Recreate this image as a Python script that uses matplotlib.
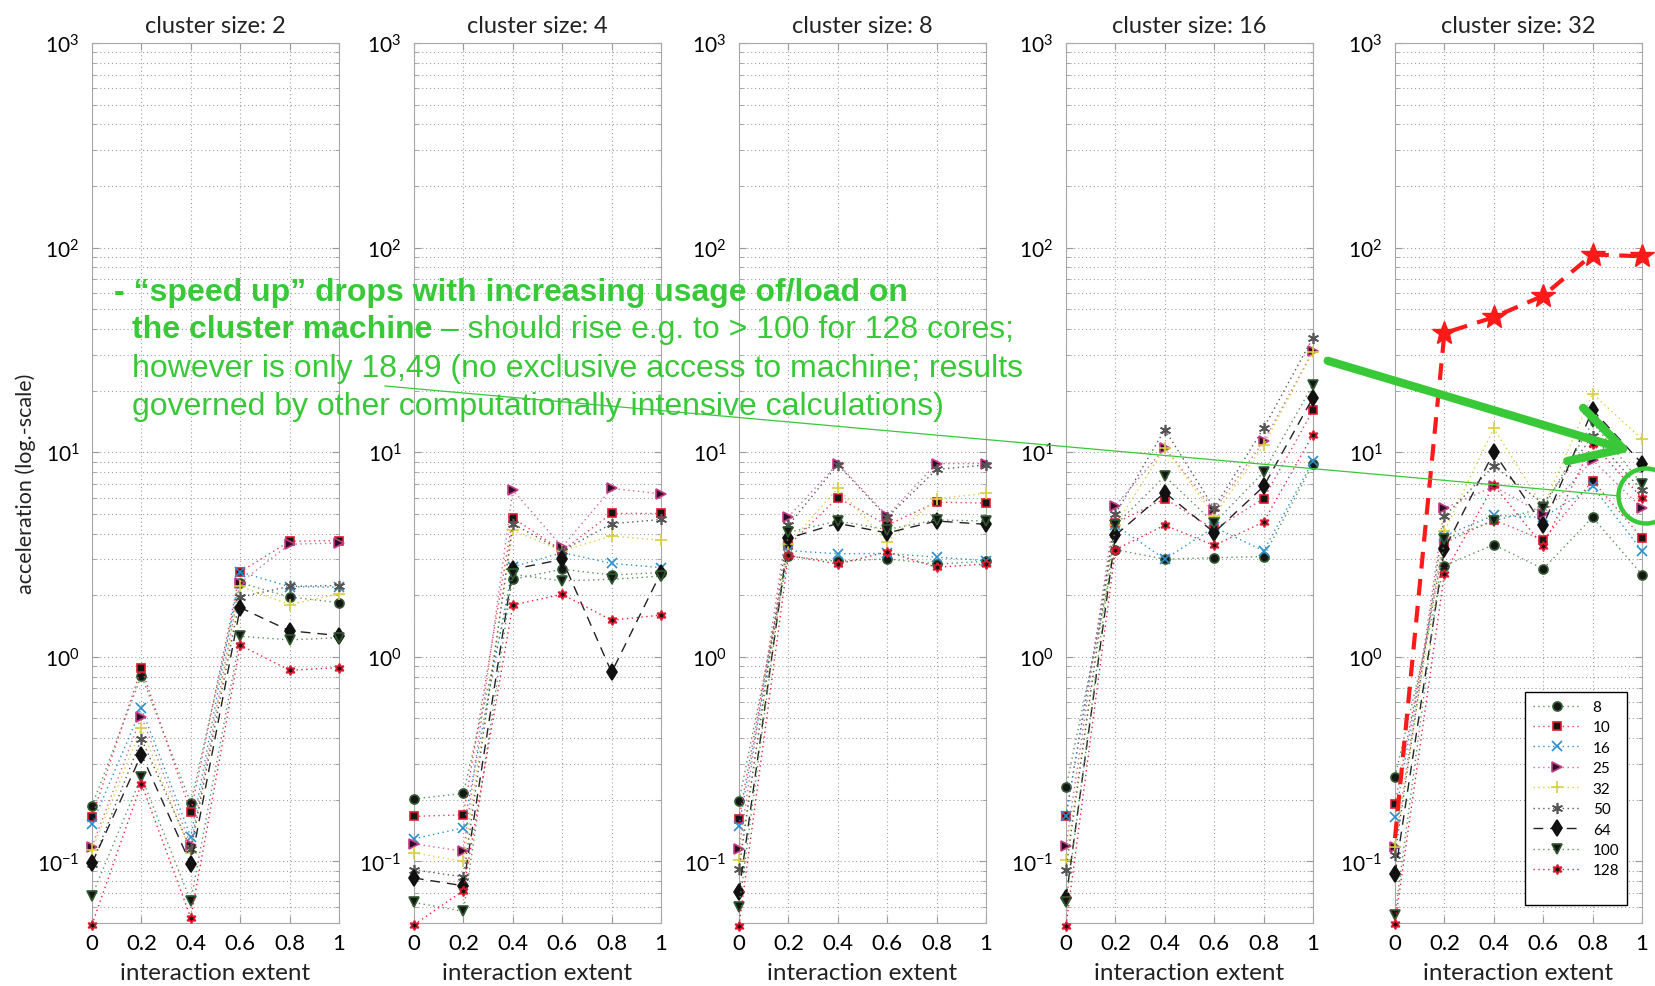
import matplotlib
matplotlib.use("Agg")
import matplotlib.pyplot as plt
from matplotlib.ticker import LogLocator, NullFormatter, FixedLocator, FixedFormatter
from matplotlib.patches import FancyArrowPatch, Ellipse
from matplotlib.lines import Line2D

plt.rcParams['font.family'] = ['Lato', 'DejaVu Sans']
plt.rcParams['mathtext.fontset'] = 'custom'
plt.rcParams['mathtext.rm'] = 'Lato'
plt.rcParams['mathtext.default'] = 'regular'

# data
x_extent = [0, 0.2, 0.4, 0.6, 0.8, 1.0]
x_tick_labels = ['0', '0.2', '0.4', '0.6', '0.8', '1']
cluster_sizes = [2, 4, 8, 16, 32]
core_counts = ['8', '10', '16', '25', '32', '50', '64', '100', '128']

# one row per core count (8, 10, 16, 25, 32, 50, 64, 100, 128)
acc_cluster2 = [
    [0.187, 0.81, 0.193, 2.3, 1.96, 1.84],
    [0.165, 0.88, 0.174, 2.6, 3.67, 3.7],
    [0.152, 0.56, 0.132, 2.6, 2.2, 2.19],
    [0.118, 0.51, 0.12, 2.3, 3.55, 3.6],
    [0.114, 0.449, 0.11, 2.21, 1.8, 2.03],
    [0.097, 0.397, 0.115, 1.96, 2.21, 2.23],
    [0.098, 0.333, 0.097, 1.74, 1.34, 1.27],
    [0.068, 0.259, 0.064, 1.26, 1.21, 1.24],
    [0.049, 0.24, 0.053, 1.14, 0.86, 0.885],
]
acc_cluster4 = [
    [0.202, 0.215, 2.39, 2.68, 2.51, 2.58],
    [0.166, 0.169, 4.78, 3.3, 5.02, 5.02],
    [0.129, 0.146, 2.75, 3.23, 2.86, 2.73],
    [0.122, 0.112, 6.53, 3.44, 6.65, 6.26],
    [0.11, 0.1, 4.15, 3.3, 3.89, 3.72],
    [0.091, 0.084, 4.47, 3.3, 4.47, 4.69],
    [0.083, 0.076, 2.68, 2.99, 0.84, 2.58],
    [0.063, 0.057, 2.53, 2.35, 2.39, 2.48],
    [0.049, 0.072, 1.79, 2.02, 1.51, 1.6],
]
acc_cluster8 = [
    [0.198, 3.1, 2.93, 3.01, 2.84, 2.93],
    [0.162, 3.5, 6.0, 4.4, 5.7, 5.64],
    [0.149, 3.3, 3.19, 3.2, 3.07, 2.95],
    [0.115, 4.83, 8.8, 4.89, 8.8, 8.8],
    [0.102, 3.56, 6.66, 3.66, 5.93, 6.29],
    [0.0915, 4.39, 8.7, 4.8, 8.24, 8.66],
    [0.0706, 3.8, 4.49, 4.03, 4.61, 4.44],
    [0.0598, 4.06, 4.61, 4.19, 4.67, 4.61],
    [0.0485, 3.13, 2.84, 3.26, 2.74, 2.84],
]
acc_cluster16 = [
    [0.23, 3.34, 3.0, 3.05, 3.09, 8.75],
    [0.167, 4.5, 5.93, 4.2, 5.93, 16.0],
    [0.167, 4.4, 3.0, 4.3, 3.3, 9.03],
    [0.119, 5.48, 10.5, 5.21, 11.3, 31.2],
    [0.102, 4.4, 10.5, 4.9, 10.8, 31.0],
    [0.091, 5.0, 12.9, 5.33, 13.1, 36.3],
    [0.066, 3.92, 6.35, 4.05, 6.8, 18.5],
    [0.063, 4.4, 7.63, 4.5, 7.99, 21.4],
    [0.0485, 3.34, 4.4, 3.5, 4.56, 12.2],
]
acc_cluster32 = [
    [0.26, 2.79, 3.53, 2.69, 4.81, 2.52],
    [0.191, 3.6, 4.67, 3.72, 7.26, 3.81],
    [0.165, 3.9, 4.91, 4.8, 6.8, 3.3],
    [0.118, 5.33, 6.8, 4.99, 9.16, 5.33],
    [0.118, 4.12, 13.1, 5.4, 19.3, 11.6],
    [0.108, 4.86, 8.57, 5.61, 12.0, 6.5],
    [0.0866, 3.35, 10.0, 4.39, 16.1, 8.8],
    [0.0545, 3.76, 4.62, 5.33, 14.0, 6.97],
    [0.0497, 2.55, 6.9, 3.48, 11.0, 5.97],
]
# hand-drawn "expected" curve for 128 cores in the last panel
expected_128 = [0.13, 38.2, 45.7, 58.2, 92.5, 90.7]

all_clusters = [acc_cluster2, acc_cluster4, acc_cluster8, acc_cluster16, acc_cluster32]

# line styles per core count: (line colour, linestyle, marker, face, edge, size)
hexagram = (6, 1, 0)
asterisk = (6, 2, 0)
styles = [
    ('#5e8f5e', ':', 'o', '#151515', '#2f5a2f', 6.5),
    ('#e8405a', ':', 's', '#151515', '#e0182d', 6.0),
    ('#2a8fd0', ':', 'x', '#2a8fd0', '#2a8fd0', 6.5),
    ('#d06a9a', ':', '>', '#2a1020', '#c83a8a', 7.0),
    ('#d8d040', ':', '+', '#d8d040', '#d8d040', 9.0),
    ('#555555', ':', asterisk, '#555555', '#555555', 8.0),
    ('#222222', '--', 'd', '#111111', '#111111', 8.5),
    ('#5e8f5e', ':', 'v', '#151515', '#2f5a2f', 7.0),
    ('#e8203a', ':', hexagram, '#151515', '#e0182d', 7.0),
]

W, H = 1655, 987
green = '#38c838'

fig = plt.figure(figsize=(W / 100, H / 100), dpi=100)

panel_lefts = [92, 414, 739, 1066, 1395]
ax_top, ax_bot, ax_w = 44, 924, 247

axes = []
for i, size in enumerate(cluster_sizes):
    ax = fig.add_axes([panel_lefts[i] / W, 1 - ax_bot / H, ax_w / W, (ax_bot - ax_top) / H])
    axes.append(ax)
    for j, vals in enumerate(all_clusters[i]):
        col, ls, mk, mfc, mec, ms = styles[j]
        ax.plot(x_extent, vals, linestyle=ls, color=col, lw=1.0,
                marker=mk, mfc=mfc, mec=mec, ms=ms, mew=1.2,
                label=core_counts[j], clip_on=False, zorder=3 + j * 0.1,
                dashes=(7, 5) if ls == '--' else (1, 2.5))
    ax.set_yscale('log')
    ax.set_ylim(0.05, 1000)
    ax.set_xlim(0, 1)
    ax.xaxis.set_major_locator(FixedLocator(x_extent))
    ax.xaxis.set_major_formatter(FixedFormatter(x_tick_labels))
    ax.yaxis.set_major_locator(FixedLocator([0.1, 1, 10, 100, 1000]))
    ax.yaxis.set_minor_locator(LogLocator(base=10, subs=range(2, 10), numticks=20))
    ax.yaxis.set_minor_formatter(NullFormatter())
    ax.grid(True, which='major', axis='both', color='#a0a0a0', lw=0.8, ls=(0, (1, 2.5)))
    ax.grid(True, which='minor', axis='y', color='#a0a0a0', lw=0.8, ls=(0, (1, 2.5)))
    ax.set_axisbelow(True)
    ax.tick_params(which='both', direction='in', top=True, right=True, color='#999999')
    ax.tick_params(which='major', length=5, pad=7)
    ax.tick_params(axis='x', labelsize=16, pad=7)
    ax.tick_params(axis='y', labelsize=15, pad=9)
    ax.tick_params(which='minor', length=3)
    for s in ax.spines.values():
        s.set_color('#a8a8a8')
    ax.set_title(f'cluster size: {size}', fontsize=17, pad=8, color='#222222')
    ax.set_xlabel('interaction extent', fontsize=17.5, labelpad=7, color='#222222')

axes[0].set_ylabel('acceleration (log.-scale)', fontsize=15.5, labelpad=1, color='#222222')

axes[4].plot(x_extent, expected_128, color='#ff1a1a', lw=3, ls='--', dashes=(4, 2.5),
             marker='*', ms=18, markevery=[1, 2, 3, 4, 5], mec='#ff1a1a', mfc='#ff1a1a',
             clip_on=False, zorder=10)

handles, labels = axes[4].get_legend_handles_labels()
handles = handles[:9] + [Line2D([], [], color='none')]
labels = labels[:9] + [' ']
leg = axes[4].legend(handles, labels, loc='lower right', bbox_to_anchor=(0.939, 0.02),
                     borderaxespad=0, fontsize=11, handlelength=3.1, labelspacing=0.42,
                     borderpad=0.5, fancybox=False, framealpha=1)
leg.get_frame().set_edgecolor('black')
leg.get_frame().set_linewidth(1.0)


def fxy(px, py):
    return px / W, 1 - py / H


# annotation text
fs = 23
fam = ['Liberation Sans', 'DejaVu Sans']
fig.text(*fxy(114, 293), '- \u201cspeed up\u201d drops with increasing usage of/load on',
         color=green, fontsize=fs, fontweight='bold', family=fam, va='center', zorder=20)
t2 = fig.text(*fxy(132, 330), 'the cluster machine', color=green, fontsize=fs,
              fontweight='bold', family=fam, va='center', zorder=20)
fig.canvas.draw()
bb = t2.get_window_extent()
fig.text(bb.x1 / W, 1 - 330 / H, ' \u2013 should rise e.g. to > 100 for 128 cores;',
         color=green, fontsize=fs, family=fam, va='center', zorder=20)
fig.text(*fxy(132, 369), 'however is only 18,49 (no exclusive access to machine; results',
         color=green, fontsize=fs, family=fam, va='center', zorder=20)
fig.text(*fxy(132, 407), 'governed by other computationally intensive calculations)',
         color=green, fontsize=fs, family=fam, va='center', zorder=20)

# thin pointer line, thick arrow and circle
fig.add_artist(Line2D([385 / W, 1620 / W], [1 - 387 / H, 1 - 497 / H],
                      transform=fig.transFigure, color=green, lw=0.9, zorder=19))
fig.add_artist(FancyArrowPatch(fxy(1325, 361), fxy(1634, 453), transform=fig.transFigure,
                               arrowstyle='->,head_length=0.9,head_width=0.5',
                               mutation_scale=40, lw=6, color=green, zorder=21))
fig.add_artist(Ellipse(fxy(1646, 497), 55 / W, 55 / H, transform=fig.transFigure,
                       fill=False, edgecolor=green, lw=3.2, zorder=21))

fig.savefig('out.png', dpi=100)
